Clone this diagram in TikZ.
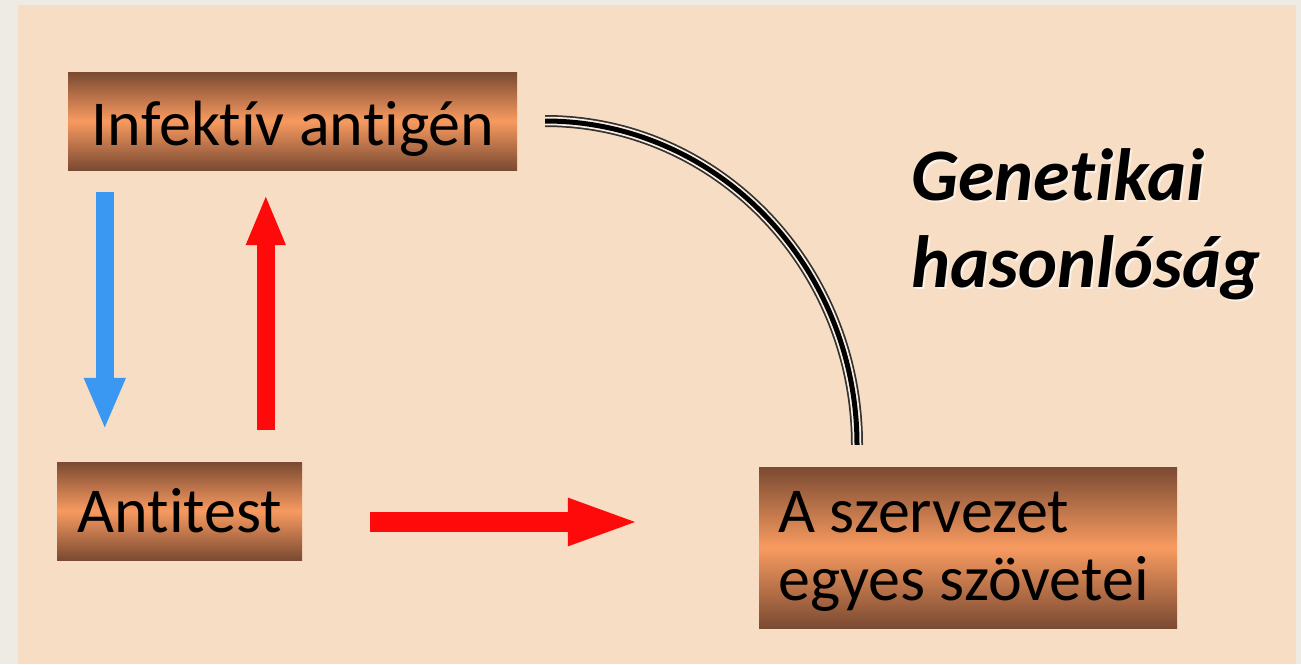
\documentclass[tikz,border=0pt]{standalone}
\usepackage{fontspec}
\setmainfont{Carlito}[Ligatures=NoCommon]
\usetikzlibrary{arrows.meta,calc}

\definecolor{framegrey}{HTML}{EDEBE3}
\definecolor{paper}{HTML}{F7DDC3}
\definecolor{copperdark}{HTML}{7A4A32}
\definecolor{copperlight}{HTML}{F89A60}
\definecolor{arrowblue}{HTML}{3A97F2}
\definecolor{arrowred}{HTML}{FF0A0A}

\tikzset{
  copperbox/.style={rectangle, inner sep=0pt, draw=none,
    top color=copperdark, bottom color=copperdark, middle color=copperlight},
  boxtext/.style={inner sep=0pt, text=black, font=\fontsize{64}{68}\selectfont},
  titletext/.style={inner sep=0pt, text=black, font=\fontsize{74}{80}\selectfont\bfseries\itshape},
  titleglow/.style={inner sep=0pt, text=white, opacity=0.6, font=\fontsize{74}{80}\selectfont\bfseries\itshape},
  blockarrow/.style={line width=#1, line cap=butt},
  tripleline/.style={draw=black!80, line width=12pt, line cap=butt,
    postaction={draw=paper!50!white, line width=8.5pt},
    postaction={draw=black, line width=5pt}}
}

\begin{document}
\begin{tikzpicture}[x=1pt, y=-1pt]
  \useasboundingbox (0,0) rectangle (1301,664);
  % page background and paper panel
  \fill[framegrey] (0,0) rectangle (1301,664);
  \fill[paper] (18,5) rectangle (1296,664);

  % copper boxes
  \node[copperbox, minimum width=449pt, minimum height=98pt] (ia) at (292.5,121) {};
  \node[copperbox, minimum width=245pt, minimum height=98pt] (ab) at (179.5,511) {};
  \node[copperbox, minimum width=418pt, minimum height=161pt] (sz) at (968,547.5) {};

  % box labels
  \node[boxtext, anchor=base] (iatext) at (293,145) {Infektív antigén};
  \node[boxtext, anchor=base] (abtext) at (180,532) {Antitest};
  \node[boxtext, anchor=base west] (sztext1) at (778,532) {A szervezet};
  \node[boxtext, anchor=base west] (sztext2) at (778,600) {egyes szövetei};

  % side caption with a soft light shadow
  \node[titleglow, anchor=base west] at (913,202) {Genetikai};
  \node[titleglow, anchor=base west] at (913,289) {hasonlóság};
  \node[titletext, anchor=base west] (gen1) at (911,200) {Genetikai};
  \node[titletext, anchor=base west] (gen2) at (911,287) {hasonlóság};

  % arrow end points
  \coordinate (bluestart) at ($(ia.south west)+(37,22)$);
  \coordinate (blueend)   at ($(ab.north west)+(48,-32)$);
  \coordinate (redupstart) at ($(ab.north west)+(209,-32)$);
  \coordinate (redupend)   at ($(ia.south west)+(198,24)$);
  \coordinate (redrstart) at ($(ab.east)+(68,11)$);
  \coordinate (redrend)   at ($(sz.west)+(-117,-25.5)$);

  \draw[blockarrow=18pt, arrowblue, -{Triangle[width=38pt, length=52pt]}] (bluestart) -- (blueend);
  \draw[blockarrow=18pt, arrowred, -{Triangle[width=36pt, length=51pt]}] (redupstart) -- (redupend);
  \draw[blockarrow=20pt, arrowred, -{Triangle[width=42pt, length=74pt]}] (redrstart) -- (redrend);

  % curved triple line linking the antigen to the tissues
  \coordinate (arcstart) at ($(ia.east)+(28,0)$);
  \coordinate (arcend)   at ($(sz.north)+(-111,-22)$);
  \draw[tripleline] (arcstart) .. controls ($(arcstart)+(172,0)$) and ($(arcend)+(0,-178)$) .. (arcend);
\end{tikzpicture}
\end{document}
